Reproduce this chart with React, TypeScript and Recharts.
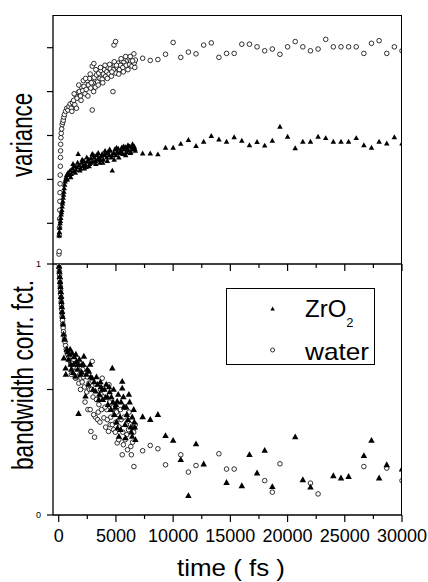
import React from "react";
import { ScatterChart, Scatter, XAxis, YAxis, Legend } from "recharts";

// variance (top panel), [time fs, value]
const zro2Variance: [number, number][] = [
  [30, 0.72], [60, 0.8], [90, 0.9], [120, 1.0], [150, 1.05], [180, 1.12], [210, 1.2], [240, 1.25],
  [270, 1.3], [300, 1.38], [330, 1.45], [360, 1.5], [390, 1.58], [420, 1.65], [450, 1.72], [480, 1.8],
  [520, 1.88], [560, 1.95], [600, 2.0], [650, 2.05], [700, 2.1], [760, 2.0], [820, 2.15], [900, 2.1],
  [1000, 2.2], [1100, 2.12], [1200, 2.25], [1300, 2.18], [1400, 2.3], [1500, 2.22], [1600, 2.28],
  [1700, 2.58], [1800, 2.32], [1900, 2.25], [2000, 2.38], [2100, 2.3], [2200, 2.42], [2300, 2.35],
  [2400, 2.28], [2500, 2.4], [2600, 2.45], [2700, 2.35], [2800, 2.48], [2930, 2.58], [3000, 2.4],
  [3100, 2.5], [3200, 2.42], [3300, 2.55], [3400, 2.45], [3500, 2.5], [3600, 2.38], [3700, 2.52],
  [3800, 2.58], [3900, 2.45], [4000, 2.55], [4100, 2.6], [4200, 2.5], [4300, 2.62], [4400, 2.55],
  [4500, 2.65], [4600, 2.5], [4680, 2.2], [4800, 2.6], [4900, 2.68], [5000, 2.55], [5100, 2.62],
  [5200, 2.7], [5300, 2.6], [5400, 2.66], [5500, 2.72], [5600, 2.58], [5700, 2.68], [5800, 2.74],
  [5900, 2.62], [6000, 2.7], [6100, 2.65], [6200, 2.75], [6300, 2.62], [6400, 2.72], [6500, 2.68],
  [6600, 2.75], [6700, 2.65],
  [1050, 2.05], [1250, 2.35], [1450, 2.15], [1650, 2.38], [1850, 2.2], [2050, 2.45], [2250, 2.25],
  [2450, 2.5], [2650, 2.3], [2850, 2.38], [3050, 2.55], [3250, 2.35], [3450, 2.6], [3650, 2.45],
  [3850, 2.38], [4050, 2.65], [4250, 2.42], [4450, 2.68], [4650, 2.55], [4850, 2.45], [5050, 2.72],
  [5250, 2.5], [5450, 2.6], [5650, 2.75], [5850, 2.55], [6050, 2.78], [6250, 2.6], [6450, 2.8],
  [6650, 2.7],
  [7333, 2.59], [8000, 2.59], [8667, 2.57], [9333, 2.72], [10000, 2.72], [10667, 2.81], [11333, 2.9],
  [12000, 2.76], [12667, 2.86], [13333, 2.99], [14000, 2.91], [14667, 2.86], [15333, 2.96],
  [16000, 2.88], [16667, 2.78], [17333, 2.85], [18000, 2.77], [18667, 2.88], [19333, 3.2],
  [20000, 2.97], [20667, 2.71], [21333, 2.86], [22000, 2.86], [22667, 2.97], [23333, 2.94],
  [24000, 2.86], [24667, 2.86], [25333, 2.86], [26000, 2.94], [26667, 2.78], [27333, 2.72],
  [28000, 2.86], [28667, 2.82], [29333, 2.96], [30000, 2.82],
];

const waterVariance: [number, number][] = [
  [20, 0.3], [40, 0.36], [60, 0.72], [70, 0.9], [80, 1.1], [90, 1.3], [100, 1.5], [110, 1.7],
  [120, 1.9], [130, 2.1], [140, 2.3], [150, 2.5], [160, 2.65], [170, 2.8], [190, 2.95], [220, 3.05],
  [260, 3.15], [300, 3.25], [350, 3.3], [400, 3.35], [450, 3.42], [500, 3.48], [600, 3.55],
  [700, 3.62], [800, 3.58], [900, 3.66], [1000, 3.72], [1100, 3.62], [1200, 3.75], [1300, 3.8],
  [1400, 3.7], [1500, 3.92], [1600, 3.85], [1700, 3.98], [1800, 4.0], [1900, 3.9], [2000, 4.1],
  [2100, 4.02], [2200, 4.12], [2300, 3.95], [2400, 4.05], [2500, 4.25], [2600, 4.15], [2700, 4.3],
  [2800, 4.08], [2930, 3.58], [2930, 4.58], [3070, 4.64], [3000, 4.2], [3100, 4.32], [3200, 4.1],
  [3300, 4.38], [3400, 4.22], [3500, 4.42], [3600, 4.3], [3700, 4.48], [3800, 4.28], [3900, 4.4],
  [4000, 4.5], [4100, 4.35], [4200, 4.45], [4300, 4.55], [4400, 4.4], [4500, 4.52], [4600, 4.35],
  [4740, 4.0], [4830, 5.06], [4970, 5.14], [4800, 4.5], [4900, 4.6], [5000, 4.42], [5100, 4.55],
  [5200, 4.65], [5300, 4.5], [5400, 4.6], [5500, 4.7], [5600, 4.55], [5700, 4.68], [5800, 4.75],
  [5900, 4.6], [6000, 4.72], [6140, 4.76], [6200, 4.62], [6300, 4.7], [6400, 4.58], [6570, 4.86],
  [6600, 4.65], [6700, 4.72],
  [1150, 3.55], [1350, 3.95], [1550, 3.62], [1750, 4.15], [1950, 3.8], [2150, 4.25], [2350, 4.3],
  [2550, 3.9], [2750, 4.4], [2850, 4.2], [3050, 4.0], [3250, 4.5], [3450, 4.15], [3650, 4.55],
  [3850, 4.2], [4050, 4.6], [4250, 4.3], [4450, 4.62], [4650, 4.45], [4850, 4.68], [5050, 4.6],
  [5250, 4.4], [5450, 4.75], [5650, 4.45], [5850, 4.8], [6050, 4.5], [6250, 4.8], [6450, 4.7],
  [6650, 4.55],
  [7333, 4.76], [8000, 4.71], [8667, 4.73], [9333, 4.85], [10000, 5.12], [10667, 4.78], [11333, 4.9],
  [12000, 4.86], [12667, 5.06], [13333, 5.11], [14000, 4.78], [14667, 4.87], [15333, 4.87],
  [16000, 5.08], [16667, 5.08], [17333, 5.02], [18000, 4.93], [18667, 4.97], [19333, 4.85],
  [20000, 5.02], [20667, 5.14], [21333, 5.02], [22000, 4.93], [22667, 4.97], [23333, 5.19],
  [24000, 5.02], [24667, 5.02], [25333, 5.02], [26000, 5.02], [26667, 4.87], [27333, 5.1],
  [28000, 5.16], [28667, 4.87], [29333, 5.02], [30000, 4.93],
];

// bandwidth correlation function (bottom panel)
const zro2Corr: [number, number][] = [
  [30, 0.99], [60, 0.97], [90, 0.95], [120, 0.93], [150, 0.91], [180, 0.89], [210, 0.87], [240, 0.85],
  [270, 0.83], [300, 0.81], [340, 0.79], [380, 0.76], [420, 0.72], [450, 0.625], [500, 0.7],
  [600, 0.585], [620, 0.56], [700, 0.66], [780, 0.65], [860, 0.62], [950, 0.64], [1050, 0.6],
  [1180, 0.645], [1250, 0.567], [1350, 0.63], [1450, 0.553], [1550, 0.61], [1650, 0.58],
  [1730, 0.404], [1800, 0.62], [1900, 0.56], [2050, 0.6], [2200, 0.632], [2340, 0.473], [2500, 0.58],
  [2640, 0.572], [2800, 0.55], [2930, 0.545], [3100, 0.53], [3220, 0.493], [3400, 0.52], [3550, 0.48],
  [3700, 0.51], [3850, 0.46], [4000, 0.5], [4090, 0.468], [4300, 0.44], [4450, 0.49], [4550, 0.42],
  [4680, 0.585], [4750, 0.45], [4850, 0.4], [4950, 0.43], [5050, 0.37], [5110, 0.453], [5140, 0.347],
  [5260, 0.313], [5350, 0.39], [5450, 0.45], [5550, 0.532], [5550, 0.505], [5700, 0.43], [5800, 0.36],
  [5840, 0.307], [5900, 0.43], [6050, 0.38], [6130, 0.48], [6300, 0.35], [6420, 0.39], [6420, 0.313],
  [6600, 0.37], [6700, 0.3],
  [1000, 0.66], [1100, 0.58], [1300, 0.6], [1500, 0.64], [1700, 0.6], [2000, 0.57], [2150, 0.6],
  [2400, 0.56], [2600, 0.52], [2750, 0.6], [3000, 0.5], [3300, 0.55], [3500, 0.46], [3650, 0.53],
  [3800, 0.5], [4150, 0.52], [4250, 0.47], [4400, 0.51], [4600, 0.47], [4800, 0.5], [5000, 0.44],
  [5200, 0.48], [5400, 0.34], [5650, 0.47], [5950, 0.4], [6200, 0.45], [6350, 0.33], [6550, 0.42],
  [6650, 0.35],
  [7333, 0.391], [8000, 0.38], [8667, 0.4], [9333, 0.316], [10000, 0.297], [10667, 0.22],
  [11333, 0.077], [12000, 0.283], [12667, 0.203], [14667, 0.129], [16000, 0.116], [16667, 0.24],
  [17333, 0.167], [18000, 0.257], [18667, 0.113], [20667, 0.311], [21333, 0.14], [22000, 0.111],
  [24000, 0.156], [24667, 0.147], [25333, 0.153], [26667, 0.236], [27333, 0.297], [28000, 0.147],
  [28667, 0.2], [30000, 0.183],
];

const waterCorr: [number, number][] = [
  [20, 1.0], [40, 0.985], [60, 0.97], [80, 0.955], [100, 0.94], [120, 0.925], [140, 0.91], [160, 0.895],
  [180, 0.88], [200, 0.865], [220, 0.85], [240, 0.835], [260, 0.82], [280, 0.805], [300, 0.79],
  [330, 0.775], [360, 0.76], [390, 0.745], [420, 0.73], [460, 0.715], [500, 0.7], [550, 0.69],
  [600, 0.675], [660, 0.66], [720, 0.65], [800, 0.64], [880, 0.63], [960, 0.615], [1050, 0.6],
  [1180, 0.612], [1250, 0.585], [1350, 0.59], [1470, 0.545], [1620, 0.585], [1760, 0.525],
  [1850, 0.56], [1950, 0.545], [2050, 0.53], [2150, 0.55], [2250, 0.51], [2340, 0.585], [2450, 0.49],
  [2550, 0.42], [2640, 0.525], [2700, 0.5], [2810, 0.333], [2930, 0.612], [3000, 0.47], [3130, 0.31],
  [3200, 0.39], [3300, 0.46], [3400, 0.38], [3510, 0.44], [3600, 0.37], [3700, 0.48], [3800, 0.545],
  [3950, 0.387], [4100, 0.35], [4200, 0.42], [4350, 0.333], [4390, 0.519], [4500, 0.36], [4600, 0.44],
  [4680, 0.36], [4800, 0.34], [4900, 0.41], [5000, 0.37], [5110, 0.287], [5200, 0.4], [5300, 0.35],
  [5400, 0.42], [5550, 0.24], [5600, 0.33], [5700, 0.39], [5800, 0.3], [5900, 0.36], [6010, 0.26],
  [6100, 0.34], [6280, 0.36], [6300, 0.273], [6450, 0.29], [6570, 0.193], [6600, 0.347], [6690, 0.36],
  [1100, 0.56], [1300, 0.62], [1550, 0.55], [1700, 0.6], [1900, 0.5], [2100, 0.58], [2300, 0.45],
  [2500, 0.55], [2750, 0.42], [2870, 0.5], [3050, 0.4], [3250, 0.52], [3450, 0.41], [3650, 0.5],
  [3750, 0.42], [3900, 0.47], [4050, 0.43], [4250, 0.38], [4450, 0.45], [4550, 0.39], [4750, 0.43],
  [4950, 0.33], [5050, 0.41], [5250, 0.3], [5450, 0.38], [5650, 0.28], [5750, 0.43], [5950, 0.32],
  [6150, 0.41], [6350, 0.24], [6550, 0.33],
  [7333, 0.256], [8000, 0.277], [8667, 0.264], [9333, 0.2], [10667, 0.24], [11333, 0.171],
  [12000, 0.197], [14000, 0.244], [14667, 0.183], [15333, 0.183], [18000, 0.137], [18667, 0.091],
  [19333, 0.204], [22000, 0.127], [22667, 0.084], [26667, 0.193], [28667, 0.187], [30000, 0.137],
];

const xTicks = [0, 2500, 5000, 7500, 10000, 12500, 15000, 17500, 20000, 22500, 25000, 27500, 30000];
const varianceTicks = [1, 2, 3, 4, 5];
const corrTicks = [0, 0.5, 1];
const corrTickLabels: Record<number, string> = { 0: "0", 0.5: "", 1: "1" };

const toPoints = (arr: [number, number][]) => arr.map(([t, v]) => ({ t, v }));

const FONT = "'Liberation Sans', Arial, sans-serif";
const X_DOMAIN: [number, number] = [-500, 30000];

function Triangle(props: any) {
  const { cx, cy, size = 5 } = props;
  if (cx == null || cy == null) return null;
  const h = size * 0.9;
  return (
    <polygon
      points={`${cx},${cy - h * 0.6} ${cx - size / 2},${cy + h * 0.4} ${cx + size / 2},${cy + h * 0.4}`}
      fill="#000"
    />
  );
}

function OpenCircle(props: any) {
  const { cx, cy, r = 2.3 } = props;
  if (cx == null || cy == null) return null;
  return <circle cx={cx} cy={cy} r={r} fill="#fff" stroke="#000" strokeWidth={0.8} />;
}

function XTick(props: any) {
  const { x, y, payload, showLabel } = props;
  const major = payload.value % 5000 === 0;
  return (
    <g>
      <line x1={x} x2={x} y1={y} y2={y + (major ? 7 : 4)} stroke="#000" strokeWidth={1.2} />
      {showLabel && major && (
        <text x={x} y={y + 27} textAnchor="middle" fontSize={18} fill="#000" fontFamily={FONT}>
          {payload.value}
        </text>
      )}
    </g>
  );
}

// axis titles in the original are drawn with a stretched font, so fix their length
function RotLabel({ text, x, y, size, length }: { text: string; x: number; y: number; size: number; length: number }) {
  return (
    <text
      x={x}
      y={y}
      transform={`rotate(-90 ${x} ${y})`}
      textAnchor="middle"
      fontSize={size}
      fill="#000"
      fontFamily={FONT}
      textLength={length}
      lengthAdjust="spacingAndGlyphs"
    >
      {text}
    </text>
  );
}

function TimeLabel() {
  return (
    <text
      x={231}
      y={576}
      textAnchor="middle"
      fontSize={24}
      fill="#000"
      fontFamily={FONT}
      textLength={108}
      lengthAdjust="spacingAndGlyphs"
    >
      time ( fs )
    </text>
  );
}

function LegendBox() {
  return (
    <svg width={150} height={78} style={{ display: "block", overflow: "visible" }}>
      <rect x={0.5} y={0.5} width={148} height={76} fill="#fff" stroke="#000" strokeWidth={1} />
      <Triangle cx={46.6} cy={21} size={4.5} />
      <text x={79} y={29} fontSize={24} fontFamily={FONT} fill="#000">
        ZrO
        <tspan fontSize={13} dy={10}>2</tspan>
      </text>
      <OpenCircle cx={46.6} cy={62} r={2} />
      <text x={79} y={72} fontSize={24} fontFamily={FONT} fill="#000" textLength={64} lengthAdjust="spacingAndGlyphs">
        water
      </text>
    </svg>
  );
}

const axisLine = { stroke: "#000", strokeWidth: 1.3 };

export default function App() {
  return (
    <div style={{ position: "absolute", left: 0, top: 0, width: 428, height: 582, background: "#fff", fontFamily: FONT }}>
      <div style={{ position: "absolute", left: 0, top: 0 }}>
        <ScatterChart width={428} height={280} margin={{ top: 15, right: 26, bottom: 6, left: 0 }}>
          <XAxis
            type="number"
            dataKey="t"
            domain={X_DOMAIN}
            ticks={xTicks}
            interval={0}
            allowDataOverflow
            height={10}
            tickSize={0}
            tickMargin={0}
            tickLine={false}
            axisLine={axisLine}
            tick={<XTick showLabel={false} />}
          />
          <YAxis
            type="number"
            dataKey="v"
            domain={[0.073, 5.745]}
            ticks={varianceTicks}
            interval={0}
            allowDataOverflow
            width={53}
            tickSize={6}
            tickFormatter={() => ""}
            tickLine={{ stroke: "#000", strokeWidth: 1.2 }}
            axisLine={axisLine}
            label={{ content: () => <RotLabel text="variance" x={31.5} y={135} size={29} length={84} /> }}
          />
          <Scatter data={toPoints(waterVariance)} shape={<OpenCircle />} isAnimationActive={false} />
          <Scatter data={toPoints(zro2Variance)} shape={<Triangle size={5.5} />} isAnimationActive={false} />
        </ScatterChart>
      </div>
      <div style={{ position: "absolute", left: 0, top: 0 }}>
        <ScatterChart width={428} height={582} margin={{ top: 264, right: 26, bottom: 0, left: 0 }}>
          <XAxis
            type="number"
            dataKey="t"
            domain={X_DOMAIN}
            ticks={xTicks}
            interval={0}
            allowDataOverflow
            height={67}
            tickSize={0}
            tickMargin={0}
            tickLine={false}
            axisLine={axisLine}
            tick={<XTick showLabel />}
            label={{ content: () => <TimeLabel /> }}
          />
          <YAxis
            type="number"
            dataKey="v"
            domain={[0, 1]}
            ticks={corrTicks}
            interval={0}
            allowDataOverflow
            width={53}
            tickSize={6}
            tickMargin={6}
            tickFormatter={(v: number) => corrTickLabels[v] ?? ""}
            tick={{ fontSize: 9, fill: "#000" }}
            tickLine={{ stroke: "#000", strokeWidth: 1.2 }}
            axisLine={axisLine}
            label={{ content: () => <RotLabel text="bandwidth corr. fct." x={33} y={375} size={29} length={190} /> }}
          />
          <Scatter data={toPoints(waterCorr)} shape={<OpenCircle />} isAnimationActive={false} />
          <Scatter data={toPoints(zro2Corr)} shape={<Triangle size={6.5} />} isAnimationActive={false} />
          <Legend
            layout="horizontal"
            verticalAlign="middle"
            align="center"
            content={<LegendBox />}
            wrapperStyle={{ position: "absolute", left: 226, top: 288, width: 150, height: 78 }}
          />
        </ScatterChart>
      </div>
      <div
        style={{
          position: "absolute",
          left: 53,
          top: 15,
          width: 349,
          height: 500,
          boxSizing: "border-box",
          borderTop: "1.3px solid #000",
          borderRight: "1.3px solid #000",
          pointerEvents: "none",
        }}
      />
    </div>
  );
}
